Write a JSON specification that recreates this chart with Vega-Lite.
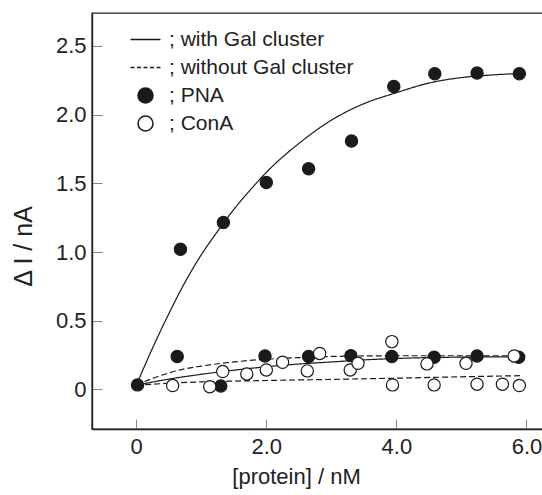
{
  "$schema": "https://vega.github.io/schema/vega-lite/v6.json",
  "autosize": "none",
  "padding": {"left": 92, "top": 13, "right": 0, "bottom": 66},
  "width": 454,
  "height": 416,
  "background": "white",
  "config": {
    "font": "Liberation Sans",
    "view": {"stroke": "#222", "strokeWidth": 1.4},
    "axis": {
      "grid": false,
      "domainColor": "#222",
      "domainWidth": 1.4,
      "tickColor": "#888",
      "tickWidth": 1,
      "tickSize": -10,
      "labelFont": "Liberation Sans",
      "labelFontSize": 22,
      "labelColor": "#222",
      "titleFont": "Liberation Sans",
      "titleFontSize": 22,
      "titleFontWeight": "normal",
      "titleColor": "#222"
    }
  },
  "datasets": {
    "points": [
      {"x": 0.02, "y": 0.033, "series": "; PNA"},
      {"x": 0.68, "y": 1.02, "series": "; PNA"},
      {"x": 1.34, "y": 1.215, "series": "; PNA"},
      {"x": 2.0, "y": 1.506, "series": "; PNA"},
      {"x": 2.65, "y": 1.606, "series": "; PNA"},
      {"x": 3.31, "y": 1.808, "series": "; PNA"},
      {"x": 3.96, "y": 2.205, "series": "; PNA"},
      {"x": 4.59, "y": 2.298, "series": "; PNA"},
      {"x": 5.24, "y": 2.303, "series": "; PNA"},
      {"x": 5.89, "y": 2.298, "series": "; PNA"},
      {"x": 0.63, "y": 0.239, "series": "; PNA"},
      {"x": 1.3, "y": 0.025, "series": "; PNA"},
      {"x": 1.98, "y": 0.244, "series": "; PNA"},
      {"x": 2.65, "y": 0.239, "series": "; PNA"},
      {"x": 3.3, "y": 0.246, "series": "; PNA"},
      {"x": 3.93, "y": 0.239, "series": "; PNA"},
      {"x": 4.58, "y": 0.234, "series": "; PNA"},
      {"x": 5.24, "y": 0.244, "series": "; PNA"},
      {"x": 5.88, "y": 0.234, "series": "; PNA"},
      {"x": 0.56, "y": 0.028, "series": "; ConA"},
      {"x": 1.13, "y": 0.02, "series": "; ConA"},
      {"x": 1.33, "y": 0.13, "series": "; ConA"},
      {"x": 1.7, "y": 0.113, "series": "; ConA"},
      {"x": 2.0, "y": 0.142, "series": "; ConA"},
      {"x": 2.25, "y": 0.198, "series": "; ConA"},
      {"x": 2.63, "y": 0.135, "series": "; ConA"},
      {"x": 2.82, "y": 0.262, "series": "; ConA"},
      {"x": 3.29, "y": 0.142, "series": "; ConA"},
      {"x": 3.41, "y": 0.19, "series": "; ConA"},
      {"x": 3.93, "y": 0.348, "series": "; ConA"},
      {"x": 3.94, "y": 0.033, "series": "; ConA"},
      {"x": 4.47, "y": 0.186, "series": "; ConA"},
      {"x": 4.58, "y": 0.033, "series": "; ConA"},
      {"x": 5.07, "y": 0.19, "series": "; ConA"},
      {"x": 5.24, "y": 0.038, "series": "; ConA"},
      {"x": 5.63, "y": 0.038, "series": "; ConA"},
      {"x": 5.81, "y": 0.244, "series": "; ConA"},
      {"x": 5.89, "y": 0.028, "series": "; ConA"}
    ],
    "curves": [
      {"curve": "PNA with", "dash": "solid", "x": 0.0, "y": 0.03},
      {"curve": "PNA with", "dash": "solid", "x": 0.25, "y": 0.3},
      {"curve": "PNA with", "dash": "solid", "x": 0.5, "y": 0.55},
      {"curve": "PNA with", "dash": "solid", "x": 0.75, "y": 0.78},
      {"curve": "PNA with", "dash": "solid", "x": 1.0, "y": 0.98},
      {"curve": "PNA with", "dash": "solid", "x": 1.25, "y": 1.15},
      {"curve": "PNA with", "dash": "solid", "x": 1.5, "y": 1.31},
      {"curve": "PNA with", "dash": "solid", "x": 1.75, "y": 1.45},
      {"curve": "PNA with", "dash": "solid", "x": 2.0, "y": 1.58},
      {"curve": "PNA with", "dash": "solid", "x": 2.5, "y": 1.79},
      {"curve": "PNA with", "dash": "solid", "x": 3.0, "y": 1.96},
      {"curve": "PNA with", "dash": "solid", "x": 3.5, "y": 2.08},
      {"curve": "PNA with", "dash": "solid", "x": 4.0, "y": 2.16},
      {"curve": "PNA with", "dash": "solid", "x": 4.5, "y": 2.23},
      {"curve": "PNA with", "dash": "solid", "x": 5.0, "y": 2.27},
      {"curve": "PNA with", "dash": "solid", "x": 5.5, "y": 2.29},
      {"curve": "PNA with", "dash": "solid", "x": 5.9, "y": 2.3},
      {"curve": "ConA with", "dash": "solid", "x": 0.0, "y": 0.03},
      {"curve": "ConA with", "dash": "solid", "x": 0.5, "y": 0.075},
      {"curve": "ConA with", "dash": "solid", "x": 1.0, "y": 0.11},
      {"curve": "ConA with", "dash": "solid", "x": 1.5, "y": 0.14},
      {"curve": "ConA with", "dash": "solid", "x": 2.0, "y": 0.165},
      {"curve": "ConA with", "dash": "solid", "x": 2.5, "y": 0.185},
      {"curve": "ConA with", "dash": "solid", "x": 3.0, "y": 0.2},
      {"curve": "ConA with", "dash": "solid", "x": 3.5, "y": 0.215},
      {"curve": "ConA with", "dash": "solid", "x": 4.0, "y": 0.225},
      {"curve": "ConA with", "dash": "solid", "x": 4.5, "y": 0.232},
      {"curve": "ConA with", "dash": "solid", "x": 5.0, "y": 0.235},
      {"curve": "ConA with", "dash": "solid", "x": 5.5, "y": 0.237},
      {"curve": "ConA with", "dash": "solid", "x": 5.9, "y": 0.238},
      {"curve": "PNA without", "dash": "dashed", "x": 0.0, "y": 0.03},
      {"curve": "PNA without", "dash": "dashed", "x": 0.25, "y": 0.08},
      {"curve": "PNA without", "dash": "dashed", "x": 0.5, "y": 0.12},
      {"curve": "PNA without", "dash": "dashed", "x": 0.75, "y": 0.15},
      {"curve": "PNA without", "dash": "dashed", "x": 1.0, "y": 0.17},
      {"curve": "PNA without", "dash": "dashed", "x": 1.5, "y": 0.2},
      {"curve": "PNA without", "dash": "dashed", "x": 2.0, "y": 0.22},
      {"curve": "PNA without", "dash": "dashed", "x": 2.5, "y": 0.232},
      {"curve": "PNA without", "dash": "dashed", "x": 3.0, "y": 0.24},
      {"curve": "PNA without", "dash": "dashed", "x": 4.0, "y": 0.245},
      {"curve": "PNA without", "dash": "dashed", "x": 5.0, "y": 0.245},
      {"curve": "PNA without", "dash": "dashed", "x": 5.9, "y": 0.245},
      {"curve": "ConA without", "dash": "dashed", "x": 0.0, "y": 0.03},
      {"curve": "ConA without", "dash": "dashed", "x": 0.5, "y": 0.045},
      {"curve": "ConA without", "dash": "dashed", "x": 1.0, "y": 0.055},
      {"curve": "ConA without", "dash": "dashed", "x": 2.0, "y": 0.065},
      {"curve": "ConA without", "dash": "dashed", "x": 3.0, "y": 0.073},
      {"curve": "ConA without", "dash": "dashed", "x": 4.0, "y": 0.082},
      {"curve": "ConA without", "dash": "dashed", "x": 5.0, "y": 0.092},
      {"curve": "ConA without", "dash": "dashed", "x": 5.9, "y": 0.1}
    ]
  },
  "layer": [
    {
      "data": {"name": "curves"},
      "mark": {"type": "line", "color": "#1a1a1a", "strokeWidth": 1.2, "interpolate": "monotone"},
      "encoding": {
        "x": {"field": "x", "type": "quantitative", "scale": {"domain": [-0.68, 6.3], "nice": false, "zero": false},
          "axis": {"values": [0, 2, 4, 6], "labelExpr": "datum.value === 0 ? '0' : format(datum.value, '.1f')", "labelPadding": 17, "title": "[protein] / nM", "titleX": 204, "titleY": 47, "titleBaseline": "middle"}},
        "y": {"field": "y", "type": "quantitative", "scale": {"domain": [-0.288, 2.74], "nice": false, "zero": false},
          "axis": {"values": [0, 0.5, 1, 1.5, 2, 2.5], "labelExpr": "datum.value === 0 ? '0' : format(datum.value, '.1f')", "labelPadding": 16, "title": "Δ I / nA", "titleX": -69, "titleY": 233, "titleAngle": -90, "titleAlign": "center", "titleBaseline": "middle", "titleFontSize": 25}},
        "detail": {"field": "curve"},
        "strokeDash": {"field": "dash", "type": "nominal", "scale": {"domain": ["solid", "dashed"], "range": [[1, 0], [6, 3]]}, "legend": null}
      }
    },
    {
      "data": {"name": "points"},
      "mark": {"type": "point", "filled": true, "size": 150, "stroke": "#1a1a1a", "strokeWidth": 1.2, "opacity": 1},
      "encoding": {
        "x": {"field": "x", "type": "quantitative"},
        "y": {"field": "y", "type": "quantitative"},
        "shape": {"field": "series", "type": "nominal",
          "scale": {"domain": ["; with Gal cluster", "; without Gal cluster", "; PNA", "; ConA"],
            "range": ["M-2,0H2", "M-2,0H-1.467M-1.133,0H-0.6M-0.267,0H0.267M0.6,0H1.133M1.467,0H2", "circle", "circle"]},
          "legend": {"title": null, "orient": "none", "legendX": 43, "legendY": 16, "padding": 0, "symbolSize": 225, "labelFont": "Liberation Sans", "labelFontSize": 21, "labelColor": "#222", "labelOffset": 13, "labelLimit": 0, "rowPadding": 6, "symbolLimit": 0,
            "encode": {"symbols": {"update": {"stroke": {"value": "#1a1a1a"}, "strokeWidth": {"value": 1.2}, "opacity": {"value": 1}}}}}},
        "fill": {"field": "series", "type": "nominal",
          "scale": {"domain": ["; with Gal cluster", "; without Gal cluster", "; PNA", "; ConA"],
            "range": ["transparent", "transparent", "#1a1a1a", "white"]},
          "legend": {"title": null, "orient": "none", "legendX": 43, "legendY": 16, "padding": 0, "symbolSize": 225, "labelFont": "Liberation Sans", "labelFontSize": 21, "labelColor": "#222", "labelOffset": 13, "labelLimit": 0, "rowPadding": 6, "symbolLimit": 0,
            "encode": {"symbols": {"update": {"stroke": {"value": "#1a1a1a"}, "strokeWidth": {"value": 1.2}, "opacity": {"value": 1}}}}}}
      }
    }
  ]
}
